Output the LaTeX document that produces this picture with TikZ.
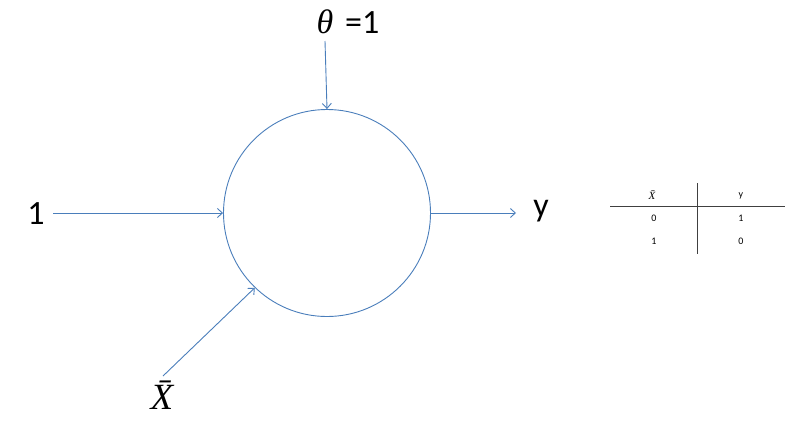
\documentclass[tikz,border=0pt]{standalone}
\usepackage{fontspec}
\setmainfont{Carlito}
\newfontfamily\mathlike{Liberation Serif}
\usetikzlibrary{arrows.meta}
\definecolor{lineblue}{RGB}{74,126,187}
\tikzset{
  conn/.style={draw=lineblue, line width=0.9pt, -{Straight Barb[length=5pt,width=9pt]}},
  biglabel/.style={font=\fontsize{34}{40}\selectfont, inner sep=0pt},
  tabtext/.style={font=\fontsize{10}{12}\selectfont, inner sep=0pt},
}
\newcommand{\xbarsym}{{\mathlike\itshape X\char"0304}}
\begin{document}
\begin{tikzpicture}[x=1pt,y=-1pt]
\useasboundingbox (0,0) rectangle (800,429);
\node[circle, draw=lineblue, line width=0.9pt, minimum size=207pt, inner sep=0pt] (neuron) at (327,213) {};
% labels
\node[biglabel] (theta) at (348,22) {{\mathlike\itshape θ}\hspace{4pt} =1};
\node[biglabel] (one) at (36,214) {1};
\node[biglabel] (y) at (541,211) {y};
\node[biglabel, font=\fontsize{37}{42}\selectfont] (xbar) at (162,395) {\xbarsym};
% arrow free ends
\coordinate (tstart) at (325,41);
\coordinate (lstart) at (53,213);
\coordinate (oend) at (516,213);
\coordinate (dstart) at (163,376);
\draw[conn] (tstart) -- (neuron.north);
\draw[conn] (lstart) -- (neuron.west);
\draw[conn] (neuron.east) -- (oend);
\draw[conn] (dstart) -- (neuron.226);
% truth table
\draw[black!75, line width=0.6pt] (610,206) -- (785,206);
\draw[black!75, line width=0.6pt] (697,183) -- (697,254);
\node[tabtext, font=\fontsize{11}{13}\selectfont] (hx) at (652,195) {\xbarsym};
\node[tabtext] (hy) at (741,196) {y};
\node[tabtext] (r1a) at (654,218) {0};
\node[tabtext] (r1b) at (741,218) {1};
\node[tabtext] (r2a) at (654,241) {1};
\node[tabtext] (r2b) at (741,241) {0};
\end{tikzpicture}
\end{document}
